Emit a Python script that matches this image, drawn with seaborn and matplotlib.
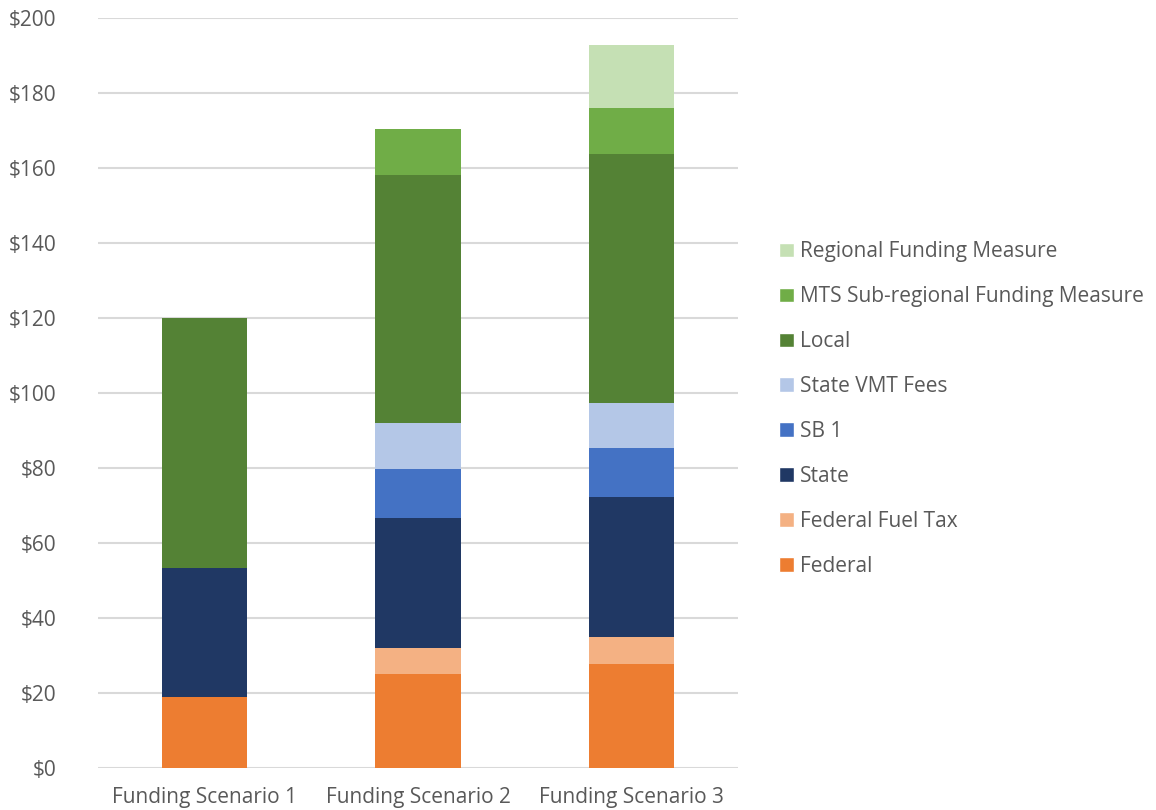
import matplotlib
matplotlib.use("Agg")
import matplotlib.pyplot as plt
import matplotlib.ticker as ticker
from matplotlib.patches import Patch
import numpy as np
import seaborn as sns

# data (millions $)
scenarios = ["Funding Scenario 1", "Funding Scenario 2", "Funding Scenario 3"]
series_names = ["Federal", "Federal Fuel Tax", "State", "SB 1", "State VMT Fees",
                "Local", "MTS Sub-regional Funding Measure", "Regional Funding Measure"]
federal = [19.0, 25.1, 27.8]
federal_fuel_tax = [0, 6.9, 7.1]
state = [34.3, 34.6, 37.3]
sb1 = [0, 13.2, 13.2]
state_vmt = [0, 12.1, 12.0]
local = [66.7, 66.3, 66.4]
mts_sub = [0, 12.3, 12.2]
regional = [0, 0, 16.8]
colors = ["#ED7D31", "#F4B183", "#203864", "#4472C4", "#B4C7E7",
          "#548235", "#70AD47", "#C5E0B4"]

sns.set_style("white")
plt.rcParams["font.family"] = ["Open Sans", "DejaVu Sans"]

fig = plt.figure(figsize=(11.56, 8.10), dpi=100)
ax = fig.add_axes([0.0848, 0.0519, 0.5536, 0.926])

layers = [federal, federal_fuel_tax, state, sb1, state_vmt, local, mts_sub, regional]
bottom = np.zeros(len(scenarios))
for name, vals, c in zip(series_names, layers, colors):
    sns.barplot(x=scenarios, y=vals, bottom=bottom, color=c, width=0.4,
                saturation=1, ax=ax, zorder=3, linewidth=0)
    bottom = bottom + np.array(vals)

ax.set_xlim(-0.5, 2.5)
ax.set_ylim(0, 200)
ax.yaxis.set_major_locator(ticker.MultipleLocator(20))
ax.yaxis.set_major_formatter(ticker.StrMethodFormatter("${x:,.0f}"))
ax.grid(axis="y", color="#D9D9D9", linewidth=1.5, zorder=0)
for s in ax.spines.values():
    s.set_visible(False)
ax.tick_params(axis="both", length=0, labelsize=15, labelcolor="#595959")
ax.tick_params(axis="y", pad=30)
ax.tick_params(axis="x", pad=14)
ax.set_xlabel("")
ax.set_ylabel("")

handles = [Patch(facecolor=c, label=n) for n, c in zip(series_names, colors)][::-1]
fig.legend(handles=handles, loc="center left", bbox_to_anchor=(0.658, 0.495),
           frameon=False, fontsize=15, labelcolor="#595959",
           handlelength=0.7, handleheight=0.7, handletextpad=0.3,
           labelspacing=1.15)

plt.savefig("out.png", dpi=100)
plt.close(fig)
